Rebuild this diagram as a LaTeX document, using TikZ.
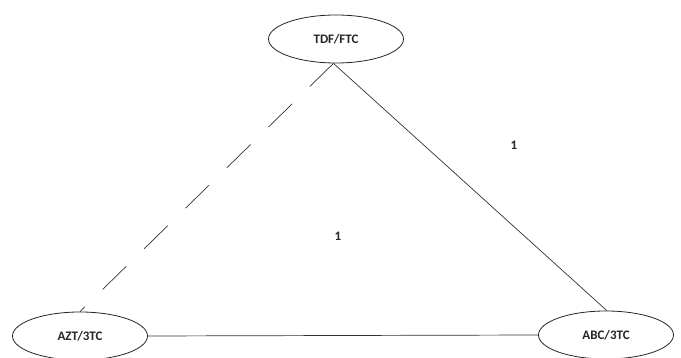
\documentclass[tikz,border=0pt]{standalone}
\usepackage{fontspec}
\setmainfont{Carlito}
\usetikzlibrary{shapes.geometric}
\begin{document}
\begin{tikzpicture}[x=1pt,y=-1pt,
  drug/.style={ellipse,draw=black!85,line width=0.8pt,minimum width=135pt,minimum height=48pt,inner sep=0pt,font=\fontsize{13}{15}\selectfont\bfseries,text=black!85},
  link/.style={draw=black!80,line width=0.7pt},
  weight/.style={font=\fontsize{13}{15}\selectfont\bfseries,text=black!85}]
\useasboundingbox (0,0) rectangle (681,358);
\fill[white] (0,0) rectangle (681,358);
\node[drug] (tdf) at (336,39) {TDF/FTC};
\node[drug] (azt) at (80,336) {AZT/3TC};
\node[drug] (abc) at (606,335) {ABC/3TC};
\draw[link,dash pattern=on 33pt off 25pt] (tdf.-96) -- (azt.north);
\draw[link] (tdf.-96) -- (abc.88);
\draw[link] (azt.east) -- (abc.west);
\node[weight] (w1) at (514,145) {1};
\node[weight] (w2) at (338,236) {1};
\end{tikzpicture}
\end{document}
